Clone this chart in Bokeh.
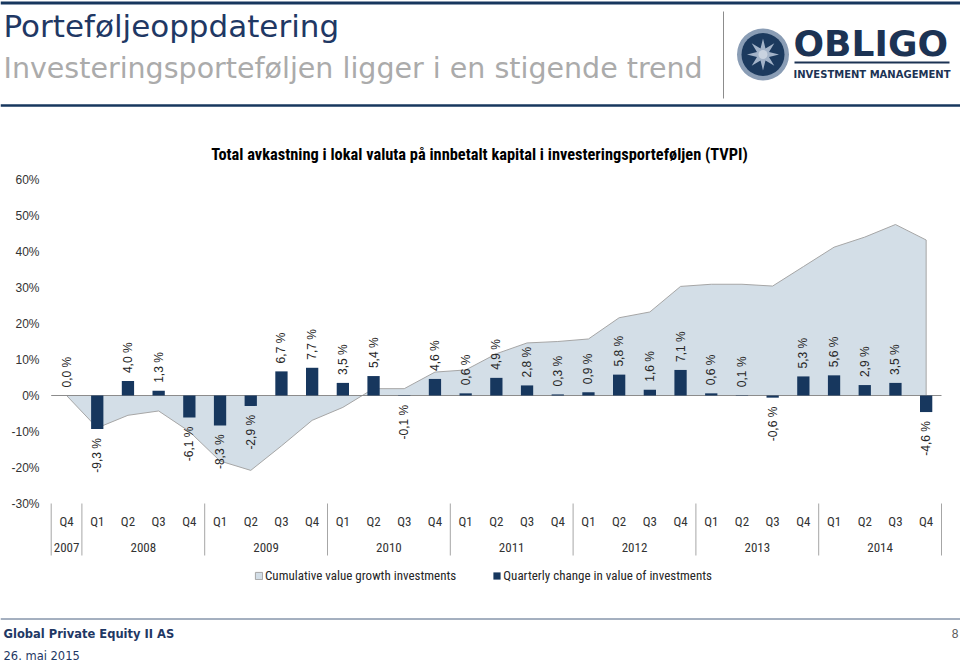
import math
from bokeh.plotting import figure
from bokeh.models import Range1d, Legend, LegendItem, ColumnDataSource
from bokeh.core.properties import value
from bokeh.embed import file_html
from bokeh.resources import INLINE

# ---------------- data ----------------
years = ["2007",
         "2008", "2008", "2008", "2008",
         "2009", "2009", "2009", "2009",
         "2010", "2010", "2010", "2010",
         "2011", "2011", "2011", "2011",
         "2012", "2012", "2012", "2012",
         "2013", "2013", "2013", "2013",
         "2014", "2014", "2014", "2014"]
quarters = ["Q4",
            "Q1", "Q2", "Q3", "Q4",
            "Q1", "Q2", "Q3", "Q4",
            "Q1", "Q2", "Q3", "Q4",
            "Q1", "Q2", "Q3", "Q4",
            "Q1", "Q2", "Q3", "Q4",
            "Q1", "Q2", "Q3", "Q4",
            "Q1", "Q2", "Q3", "Q4"]
quarterly_change = [0.0, -9.3, 4.0, 1.3, -6.1, -8.3, -2.9, 6.7, 7.7, 3.5, 5.4, -0.1,
                    4.6, 0.6, 4.9, 2.8, 0.3, 0.9, 5.8, 1.6, 7.1, 0.6, 0.1, -0.6,
                    5.3, 5.6, 2.9, 3.5, -4.6]
cumulative_growth = [0.0, -9.0, -5.5, -4.3, -10.0, -18.2, -20.8, -14.0, -6.9, -3.3,
                     1.9, 1.9, 6.5, 7.1, 11.6, 14.6, 15.0, 15.7, 21.6, 23.2,
                     30.3, 30.9, 30.9, 30.4, 35.8, 41.2, 44.0, 47.5, 43.2]
y_ticks = [-30, -20, -10, 0, 10, 20, 30, 40, 50, 60]
y_tick_labels = ["-30%", "-20%", "-10%", "0%", "10%", "20%", "30%", "40%", "50%", "60%"]

# ---------------- layout / style ----------------
W, H = 960, 662
NAVY = "#17375E"
AREA = "#D3DEE7"
NARROW = "Roboto Condensed"
ARIAL = "Liberation Sans"
X_LEFT, X_RIGHT = 50.7, 941.0          # pixel extent of the category band
Y_ZERO, PX_PER_PCT = 395.0, 3.6        # pixel row of 0 % and pixels per percent point

n = len(quarters)
unit = (X_RIGHT - X_LEFT) / n
x_range = Range1d(-0.5 - X_LEFT / unit, -0.5 + (W - X_LEFT) / unit)
y_range = Range1d(-(H - Y_ZERO) / PX_PER_PCT, Y_ZERO / PX_PER_PCT)

p = figure(width=W, height=H, x_range=x_range, y_range=y_range, title=None,
           output_backend="svg", toolbar_location=None, min_border=0,
           x_axis_location=None, y_axis_location=None)
p.extra_x_ranges = {"px": Range1d(0, W)}
p.extra_y_ranges = {"px": Range1d(H, 0)}
p.grid.visible = False
p.outline_line_color = None
p.background_fill_color = "white"
p.border_fill_color = "white"

PX = dict(x_range_name="px", y_range_name="px")

# ---------------- header ----------------
p.segment(x0=[0], y0=[2.5], x1=[W], y1=[2.5], line_color=NAVY, line_width=3, **PX)
p.segment(x0=[0], y0=[105], x1=[W], y1=[105], line_color=NAVY, line_width=2.5, **PX)
p.segment(x0=[723], y0=[11], x1=[723], y1=[98], line_color="#8C8C8C", line_width=1, **PX)
p.text(x=[3], y=[25], text=["Porteføljeoppdatering"], text_font=value("DejaVu Sans"),
       text_font_size="31px", text_color="#1F3864", text_baseline="middle", **PX)
p.text(x=[3], y=[68], text=["Investeringsporteføljen ligger i en stigende trend"],
       text_font=value("DejaVu Sans"), text_font_size="28.5px", text_color="#ABABAB",
       text_baseline="middle", **PX)

# logo
cx, cy = 762.5, 54
p.circle(x=[cx], y=[cy], radius=26, fill_color="#8A9DB5", line_color=None, **PX)
p.circle(x=[cx], y=[cy], radius=21.5, fill_color="#1C3A5E", line_color=None, **PX)
star_x, star_y = [], []
for k in range(16):
    r = 16 if k % 2 == 0 else 6.5
    a = -math.pi / 2 + k * math.pi / 8
    star_x.append(cx + r * math.cos(a))
    star_y.append(cy + r * math.sin(a))
p.patch(x=star_x, y=star_y, fill_color="#A3B3C8", line_color=None, **PX)
p.circle(x=[cx], y=[cy], radius=4.5, fill_color="#C9D3E0", line_color=None, **PX)
p.text(x=[793], y=[43], text=["OBLIGO"], text_font=value("DejaVu Sans"), text_font_style="bold",
       text_font_size="36px", text_color="#1C3354", text_baseline="middle", **PX)
p.segment(x0=[794], y0=[62], x1=[949], y1=[62], line_color="#1C3354", line_width=2, **PX)
p.text(x=[871.5], y=[73.5], text=["INVESTMENT MANAGEMENT"], text_font=value("DejaVu Sans"),
       text_font_style="bold", text_font_size="10px", text_color="#1C3354",
       text_baseline="middle", text_align="center", **PX)

# chart title
p.text(x=[479], y=[154],
       text=["Total avkastning i lokal valuta på innbetalt kapital i investeringsporteføljen (TVPI)"],
       text_font=value(NARROW), text_font_style="bold", text_font_size="16.4px",
       text_color="#000000", text_baseline="middle", text_align="center", **PX)

# ---------------- chart ----------------
idx = list(range(n))
area_r = p.patch(x=idx + [idx[-1], idx[0]], y=cumulative_growth + [0, 0],
                 fill_color=AREA, line_color="#A6A6A6", line_width=1)
p.segment(x0=[-0.5], y0=[0], x1=[n - 0.5], y1=[0], line_color="#8C8C8C", line_width=1.2)
bar_r = p.vbar(x=idx, top=quarterly_change, width=0.4, fill_color=NAVY, line_color=None)

labels = [f"{v:.1f} %".replace(".", ",") for v in quarterly_change]
pos = [i for i, v in enumerate(quarterly_change) if v >= 0]
neg = [i for i, v in enumerate(quarterly_change) if v < 0]
src_pos = ColumnDataSource(dict(x=pos, y=[quarterly_change[i] for i in pos],
                                t=[labels[i] for i in pos]))
src_neg = ColumnDataSource(dict(x=neg, y=[quarterly_change[i] for i in neg],
                                t=[labels[i] for i in neg]))
common = dict(angle=math.pi / 2, text_font=value(ARIAL), text_font_size="12px",
              text_color="#262626", text_baseline="middle")
p.text(x="x", y="y", text="t", source=src_pos, text_align="left", y_offset=-8, **common)
p.text(x="x", y="y", text="t", source=src_neg, text_align="right", y_offset=9, **common)

# y tick labels (value scale)
p.text(x=[39] * len(y_ticks), y=y_ticks, text=y_tick_labels, x_range_name="px",
       text_font=value(ARIAL), text_font_size="12px", text_color="#333333",
       text_align="right", text_baseline="middle")

# category labels: quarters, years, separators
p.text(x=idx, y=[521] * n, text=quarters, y_range_name="px", text_font=value(NARROW),
       text_font_size="13px", text_color="#333333", text_align="center", text_baseline="middle")
group_names, group_first, group_last = [], [], []
for i, yv in enumerate(years):
    if not group_names or group_names[-1] != yv:
        group_names.append(yv)
        group_first.append(i)
        group_last.append(i)
    else:
        group_last[-1] = i
group_center = [(a + b) / 2 for a, b in zip(group_first, group_last)]
p.text(x=group_center, y=[546.5] * len(group_names), text=group_names, y_range_name="px",
       text_font=value(NARROW), text_font_size="13px", text_color="#333333",
       text_align="center", text_baseline="middle")
sep_x = [f - 0.5 for f in group_first] + [n - 0.5]
p.segment(x0=sep_x, y0=[503] * len(sep_x), x1=sep_x, y1=[555] * len(sep_x), y_range_name="px",
          line_color="#A6A6A6", line_width=1)

legend = Legend(items=[LegendItem(label="Cumulative value growth investments", renderers=[area_r]),
                       LegendItem(label="Quarterly change in value of investments", renderers=[bar_r])],
                orientation="horizontal", location=(254, H - 583),
                border_line_color=None, background_fill_alpha=0,
                label_text_font=NARROW, label_text_font_size="13px", label_text_color="#262626",
                glyph_width=9, glyph_height=9, label_standoff=2, spacing=36,
                padding=0, margin=0, label_height=15)
p.add_layout(legend, "center")

# ---------------- footer ----------------
p.segment(x0=[0], y0=[618.5], x1=[W], y1=[618.5], line_color="#4A6080", line_width=1, **PX)
p.text(x=[3], y=[633], text=["Global Private Equity II AS"], text_font=value("DejaVu Sans"),
       text_font_style="bold", text_font_size="11.5px", text_color="#1F3864",
       text_baseline="middle", **PX)
p.text(x=[3], y=[655], text=["26. mai 2015"], text_font=value("DejaVu Sans"),
       text_font_size="11.5px", text_color="#1F3864", text_baseline="middle", **PX)
p.text(x=[958], y=[633], text=["8"], text_font=value(ARIAL), text_font_size="12px",
       text_color="#595959", text_baseline="middle", text_align="right", **PX)

open("out.html", "w").write(file_html(p, INLINE))
